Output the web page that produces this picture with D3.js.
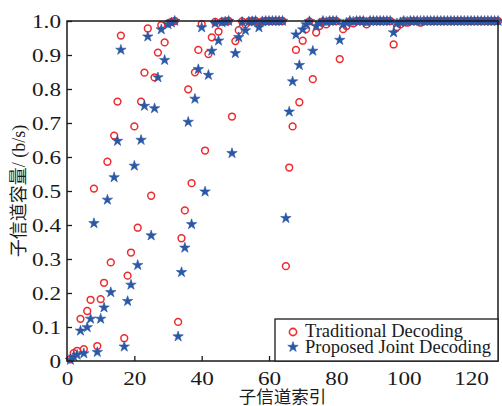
<!DOCTYPE html>
<html>
<head>
<meta charset="utf-8">
<script src="https://cdn.jsdelivr.net/npm/d3@7"></script>
<style>
  body { margin: 0; background: #fff; }
  text { font-family: "Liberation Serif", "Noto Sans CJK SC", serif; fill: #1a1a1a; }
</style>
</head>
<body>
<svg width="502" height="406"></svg>
<script>
// sub-channel index 1..128
const indices = d3.range(1, 129);

// capacity per sub-channel
const traditional = [
  0.005, 0.023, 0.030, 0.124, 0.035, 0.147, 0.180, 0.507,
  0.044, 0.182, 0.230, 0.586, 0.290, 0.663, 0.763, 0.957,
  0.067, 0.251, 0.319, 0.690, 0.392, 0.763, 0.848, 0.978,
  0.486, 0.834, 0.907, 0.988, 0.937, 0.993, 0.997, 1.000,
  0.115, 0.361, 0.443, 0.799, 0.523, 0.849, 0.915, 0.991,
  0.619, 0.903, 0.952, 0.997, 0.969, 0.998, 0.999, 1.000,
  0.719, 0.941, 0.973, 0.999, 0.990, 0.999, 1.000, 1.000,
  0.995, 0.999, 1.000, 1.000, 1.000, 1.000, 1.000, 1.000,
  0.279, 0.569, 0.690, 0.915, 0.761, 0.942, 0.976, 0.999,
  0.829, 0.966, 0.985, 0.999, 0.990, 1.000, 1.000, 1.000,
  0.888, 0.976, 0.985, 0.999, 0.993, 1.000, 1.000, 1.000,
  0.990, 1.000, 1.000, 1.000, 1.000, 1.000, 1.000, 1.000,
  0.931, 0.982, 0.990, 1.000, 0.995, 1.000, 1.000, 1.000,
  0.995, 1.000, 1.000, 1.000, 1.000, 1.000, 1.000, 1.000,
  1.000, 1.000, 1.000, 1.000, 1.000, 1.000, 1.000, 1.000,
  1.000, 1.000, 1.000, 1.000, 1.000, 1.000, 1.000, 1.000
];
const proposed = [
  0.003, 0.013, 0.018, 0.089, 0.022, 0.099, 0.124, 0.405,
  0.026, 0.124, 0.157, 0.474, 0.202, 0.540, 0.647, 0.915,
  0.042, 0.176, 0.224, 0.574, 0.282, 0.650, 0.750, 0.954,
  0.369, 0.743, 0.834, 0.975, 0.885, 0.990, 0.995, 1.000,
  0.072, 0.261, 0.333, 0.703, 0.402, 0.771, 0.858, 0.981,
  0.498, 0.841, 0.912, 0.993, 0.942, 0.996, 0.998, 1.000,
  0.611, 0.905, 0.952, 0.997, 0.972, 0.998, 0.999, 1.000,
  0.981, 0.999, 1.000, 1.000, 1.000, 1.000, 1.000, 1.000,
  0.420, 0.733, 0.822, 0.960, 0.870, 0.975, 0.990, 0.999,
  0.912, 0.985, 0.993, 1.000, 0.997, 1.000, 1.000, 1.000,
  0.944, 0.990, 0.995, 1.000, 0.998, 1.000, 1.000, 1.000,
  0.996, 1.000, 1.000, 1.000, 1.000, 1.000, 1.000, 1.000,
  0.966, 0.993, 0.996, 1.000, 0.998, 1.000, 1.000, 1.000,
  1.000, 1.000, 1.000, 1.000, 1.000, 1.000, 1.000, 1.000,
  1.000, 1.000, 1.000, 1.000, 1.000, 1.000, 1.000, 1.000,
  1.000, 1.000, 1.000, 1.000, 1.000, 1.000, 1.000, 1.000
];

const xTicks = [0, 20, 40, 60, 80, 100, 120];
const yTicks = [0, 0.1, 0.2, 0.3, 0.4, 0.5, 0.6, 0.7, 0.8, 0.9, 1.0];
const yTickLabels = ['0', '0.1', '0.2', '0.3', '0.4', '0.5', '0.6', '0.7', '0.8', '0.9', '1.0'];
const seriesNames = ['Traditional Decoding', 'Proposed Joint Decoding'];

const plotL = 67, plotR = 498, plotT = 21, plotB = 361;

const xScale = d3.scaleLinear().domain([0, 128]).range([plotL, plotR]);
const yScale = d3.scaleLinear().domain([0, 1]).range([plotB, plotT]);

const svg = d3.select('svg');

// axes, ticks pointing inward
const xAxis = svg.append('g')
  .attr('transform', `translate(0,${plotB})`)
  .call(d3.axisBottom(xScale).tickValues(xTicks).tickSize(-5).tickPadding(10));
const yAxis = svg.append('g')
  .attr('transform', `translate(${plotL},0)`)
  .call(d3.axisLeft(yScale).tickValues(yTicks).tickSize(-5).tickPadding(6)
    .tickFormat((d, i) => yTickLabels[i]));

[xAxis, yAxis].forEach(ax => {
  ax.select('.domain').remove();
  ax.selectAll('.tick line').attr('stroke', '#1a1a1a').attr('stroke-width', 1.3);
  ax.selectAll('.tick text')
    .style('font-family', '"Liberation Serif", serif')
    .style('font-size', '19px')
    .attr('fill', '#1a1a1a');
});
xAxis.selectAll('.tick text').attr('dy', '0.72em');

// stretch tick numbers a bit, they're wide in the original
svg.selectAll('.tick text').each(function () {
  const w = this.getComputedTextLength();
  d3.select(this).attr('textLength', w * 1.22).attr('lengthAdjust', 'spacingAndGlyphs');
});

// traditional: open red circles
svg.append('g')
  .selectAll('circle')
  .data(indices)
  .enter()
  .append('circle')
  .attr('cx', d => xScale(d))
  .attr('cy', (d, i) => yScale(traditional[i]))
  .attr('r', 3.4)
  .attr('fill', 'none')
  .attr('stroke', '#ee2a2e')
  .attr('stroke-width', 1.5);

// proposed: blue stars
const star = d3.symbol().type(d3.symbolStar).size(34);
svg.append('g')
  .selectAll('path')
  .data(indices)
  .enter()
  .append('path')
  .attr('d', star)
  .attr('transform', (d, i) => `translate(${xScale(d)},${yScale(proposed[i])})`)
  .attr('fill', '#2a58a6')
  .attr('stroke', '#2a58a6')
  .attr('stroke-width', 0.6);

// box
svg.append('rect')
  .attr('x', plotL).attr('y', plotT)
  .attr('width', plotR - plotL).attr('height', plotB - plotT)
  .attr('fill', 'none')
  .attr('stroke', '#1a1a1a')
  .attr('stroke-width', 1.5);

// legend
const legend = svg.append('g');
legend.append('rect')
  .attr('x', 275).attr('y', 319)
  .attr('width', plotR - 275).attr('height', plotB - 319)
  .attr('fill', '#fff')
  .attr('stroke', '#1a1a1a')
  .attr('stroke-width', 1.3);
legend.append('circle')
  .attr('cx', 293).attr('cy', 332)
  .attr('r', 3.6)
  .attr('fill', 'none')
  .attr('stroke', '#ee2a2e')
  .attr('stroke-width', 1.6);
legend.append('path')
  .attr('d', star)
  .attr('transform', 'translate(293,347)')
  .attr('fill', '#2a58a6')
  .attr('stroke', '#2a58a6')
  .attr('stroke-width', 0.6);
legend.selectAll('text.lbl')
  .data(seriesNames)
  .enter()
  .append('text')
  .attr('class', 'lbl')
  .attr('x', 305)
  .attr('y', (d, i) => 337 + i * 15.5)
  .style('font-size', '18.5px')
  .text(d => d);

// axis titles
svg.append('text')
  .attr('x', (plotL + plotR) / 2)
  .attr('y', 403)
  .attr('text-anchor', 'middle')
  .style('font-size', '17.5px')
  .text('子信道索引');
svg.append('text')
  .attr('transform', `translate(25,${(plotT + plotB) / 2}) rotate(-90)`)
  .attr('text-anchor', 'middle')
  .style('font-size', '18px')
  .text('子信道容量/ (b/s)');
</script>
</body>
</html>
